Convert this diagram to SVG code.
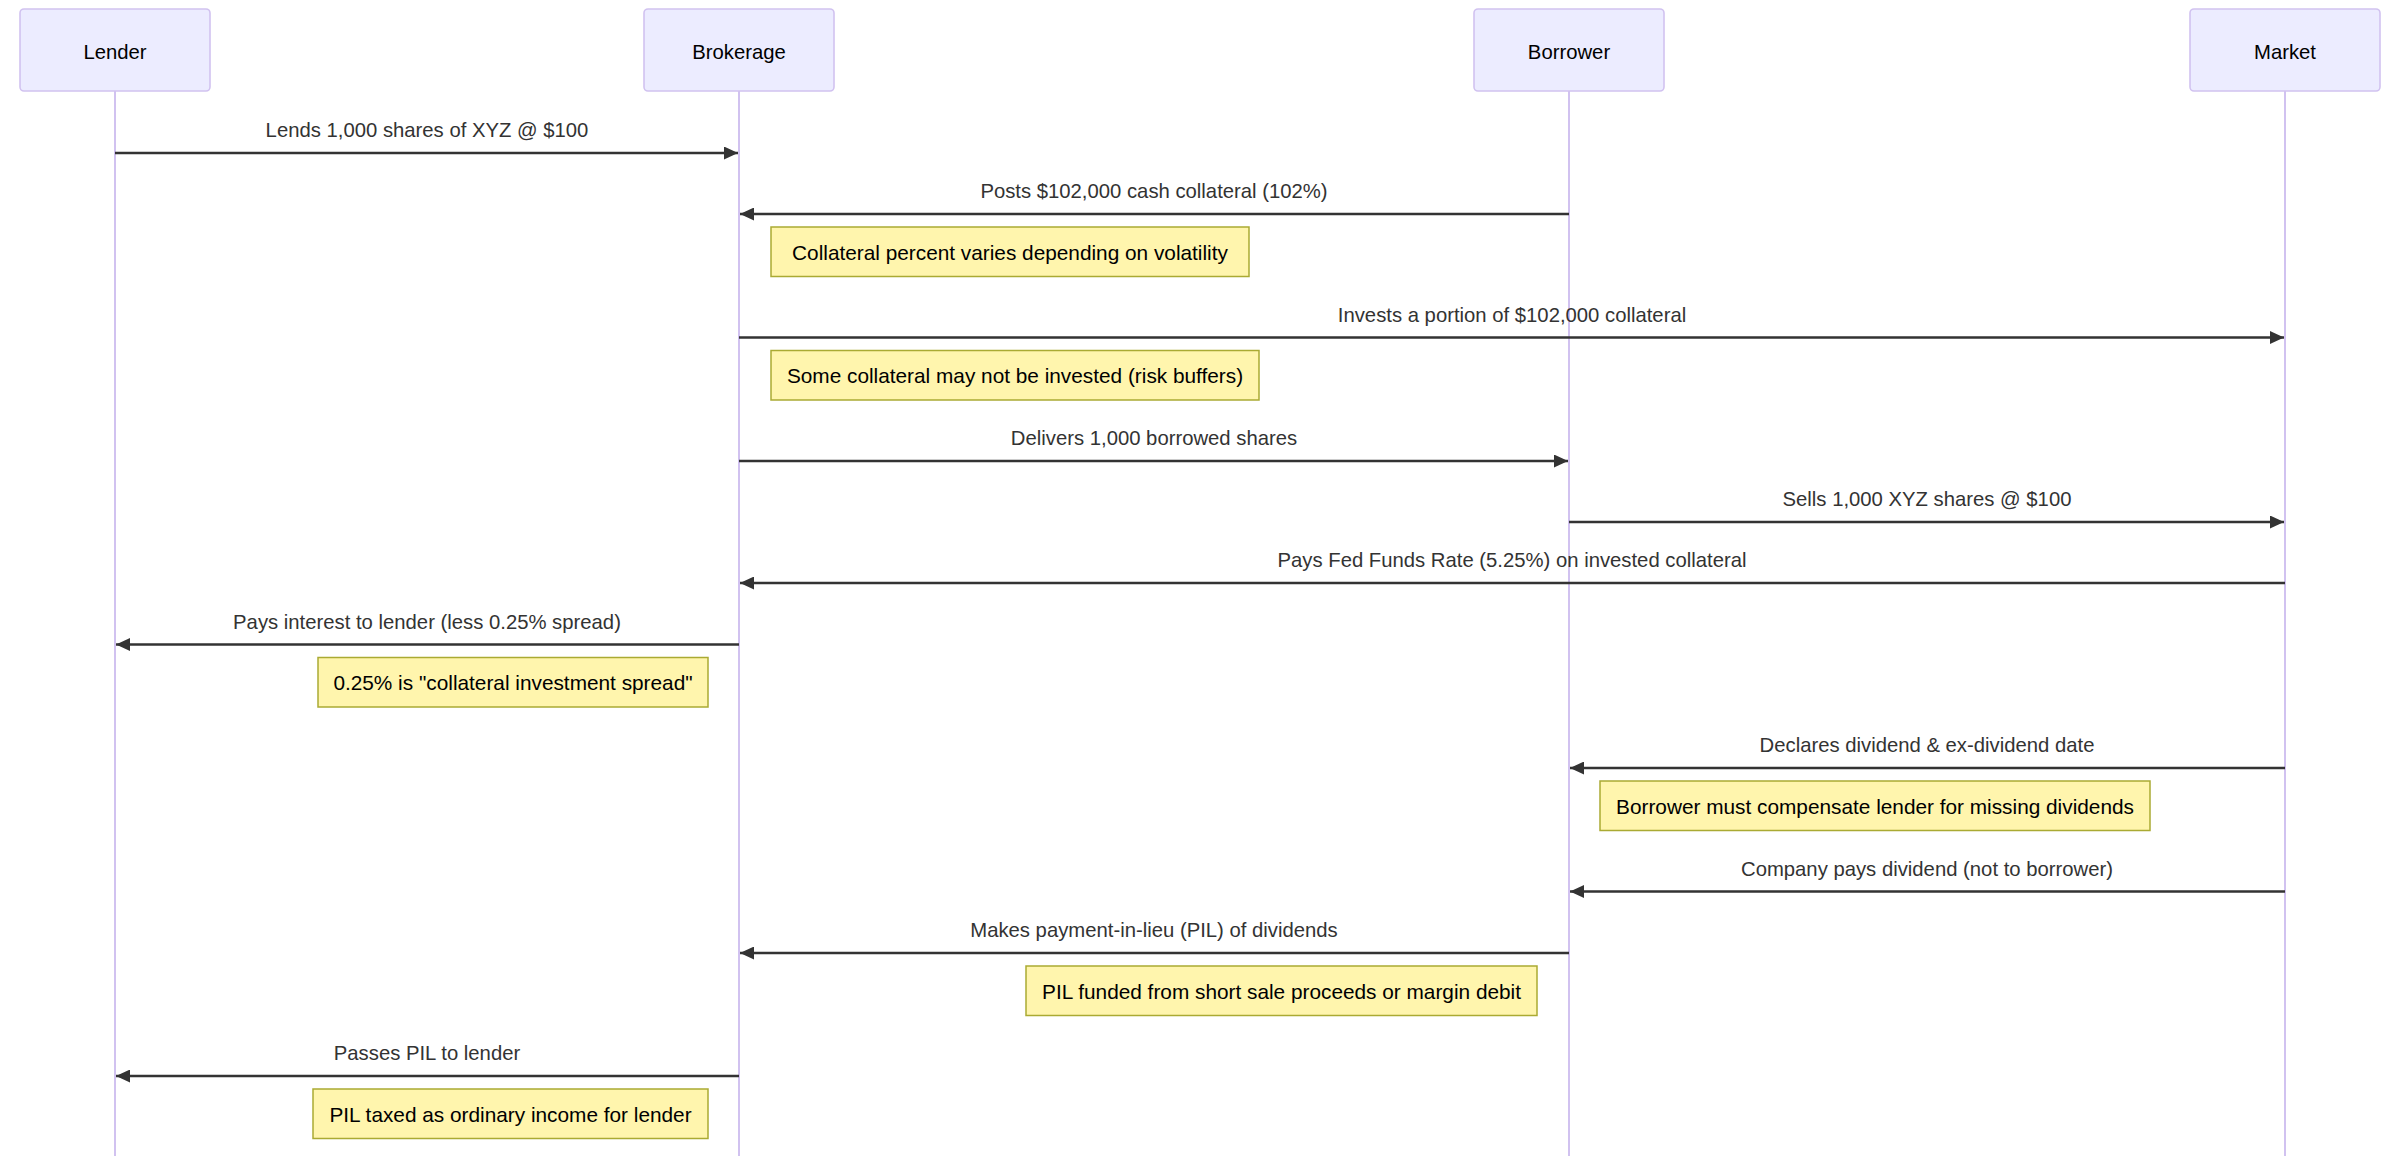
<svg xmlns="http://www.w3.org/2000/svg" width="2400" height="1156" viewBox="0 0 2400 1156">
<style>
  .actor rect { fill: #ECECFF; stroke: hsl(259.6, 59.8%, 85%); stroke-width: 1.6; }
  .actor text { font-family: "Liberation Sans", Arial, sans-serif; font-size: 20.3px; fill: #000; text-anchor: middle; }
  .life { stroke: hsl(259.6, 59.8%, 85%); stroke-width: 2; fill: none; }
  .msg { stroke: #333; stroke-width: 2.4; fill: none; marker-end: url(#ah); }
  .lbl { font-family: "Liberation Sans", Arial, sans-serif; font-size: 20.3px; fill: #333; text-anchor: middle; }
  .note rect { fill: #fff5ad; stroke: #aaaa33; stroke-width: 1.5; }
  .note text { font-family: "Liberation Sans", Arial, sans-serif; font-size: 20.8px; fill: #000; text-anchor: middle; }
</style>
<defs>
  <marker id="ah" markerWidth="14" markerHeight="13" refX="14" refY="6.5" orient="auto" markerUnits="userSpaceOnUse">
    <path d="M0,0 L14,6.5 L0,13 z" fill="#333"/>
  </marker>
</defs>
<rect width="2400" height="1156" fill="#fff"/>

<g id="lifelines">
  <line class="life" x1="115" y1="91" x2="115" y2="1156"/>
  <line class="life" x1="739" y1="91" x2="739" y2="1156"/>
  <line class="life" x1="1569" y1="91" x2="1569" y2="1156"/>
  <line class="life" x1="2285" y1="91" x2="2285" y2="1156"/>
</g>

<g id="lender" class="actor">
  <rect x="20" y="9" width="190" height="82" rx="4"/>
  <text x="115" y="59">Lender</text>
</g>
<g id="brokerage" class="actor">
  <rect x="644" y="9" width="190" height="82" rx="4"/>
  <text x="739" y="59">Brokerage</text>
</g>
<g id="borrower" class="actor">
  <rect x="1474" y="9" width="190" height="82" rx="4"/>
  <text x="1569" y="59">Borrower</text>
</g>
<g id="market" class="actor">
  <rect x="2190" y="9" width="190" height="82" rx="4"/>
  <text x="2285" y="59">Market</text>
</g>

<g id="connectors">
  <line class="msg" x1="115" y1="153" x2="738" y2="153"/>
  <text class="lbl" x="427" y="137">Lends 1,000 shares of XYZ @ $100</text>

  <line class="msg" x1="1569" y1="214" x2="740" y2="214"/>
  <text class="lbl" x="1154" y="198">Posts $102,000 cash collateral (102%)</text>

  <line class="msg" x1="739" y1="337.5" x2="2284" y2="337.5"/>
  <text class="lbl" x="1512" y="321.5">Invests a portion of $102,000 collateral</text>

  <line class="msg" x1="739" y1="461" x2="1568" y2="461"/>
  <text class="lbl" x="1154" y="445">Delivers 1,000 borrowed shares</text>

  <line class="msg" x1="1569" y1="522" x2="2284" y2="522"/>
  <text class="lbl" x="1927" y="506">Sells 1,000 XYZ shares @ $100</text>

  <line class="msg" x1="2285" y1="583" x2="740" y2="583"/>
  <text class="lbl" x="1512" y="567">Pays Fed Funds Rate (5.25%) on invested collateral</text>

  <line class="msg" x1="739" y1="644.5" x2="116" y2="644.5"/>
  <text class="lbl" x="427" y="628.5">Pays interest to lender (less 0.25% spread)</text>

  <line class="msg" x1="2285" y1="768" x2="1570" y2="768"/>
  <text class="lbl" x="1927" y="752">Declares dividend &amp; ex-dividend date</text>

  <line class="msg" x1="2285" y1="891.5" x2="1570" y2="891.5"/>
  <text class="lbl" x="1927" y="875.5">Company pays dividend (not to borrower)</text>

  <line class="msg" x1="1569" y1="953" x2="740" y2="953"/>
  <text class="lbl" x="1154" y="937">Makes payment-in-lieu (PIL) of dividends</text>

  <line class="msg" x1="739" y1="1076" x2="116" y2="1076"/>
  <text class="lbl" x="427" y="1060">Passes PIL to lender</text>
</g>

<g id="note1" class="note">
  <rect x="771" y="227" width="478" height="49.5"/>
  <text x="1010" y="259.5">Collateral percent varies depending on volatility</text>
</g>
<g id="note2" class="note">
  <rect x="771" y="350.5" width="488" height="49.5"/>
  <text x="1015" y="383">Some collateral may not be invested (risk buffers)</text>
</g>
<g id="note3" class="note">
  <rect x="318" y="657.5" width="390" height="49.5"/>
  <text x="513" y="690">0.25% is "collateral investment spread"</text>
</g>
<g id="note4" class="note">
  <rect x="1600" y="781" width="550" height="49.5"/>
  <text x="1875" y="813.5">Borrower must compensate lender for missing dividends</text>
</g>
<g id="note5" class="note">
  <rect x="1026" y="966" width="511" height="49.5"/>
  <text x="1281.5" y="998.5">PIL funded from short sale proceeds or margin debit</text>
</g>
<g id="note6" class="note">
  <rect x="313" y="1089" width="395" height="49.5"/>
  <text x="510.5" y="1121.5">PIL taxed as ordinary income for lender</text>
</g>
</svg>
